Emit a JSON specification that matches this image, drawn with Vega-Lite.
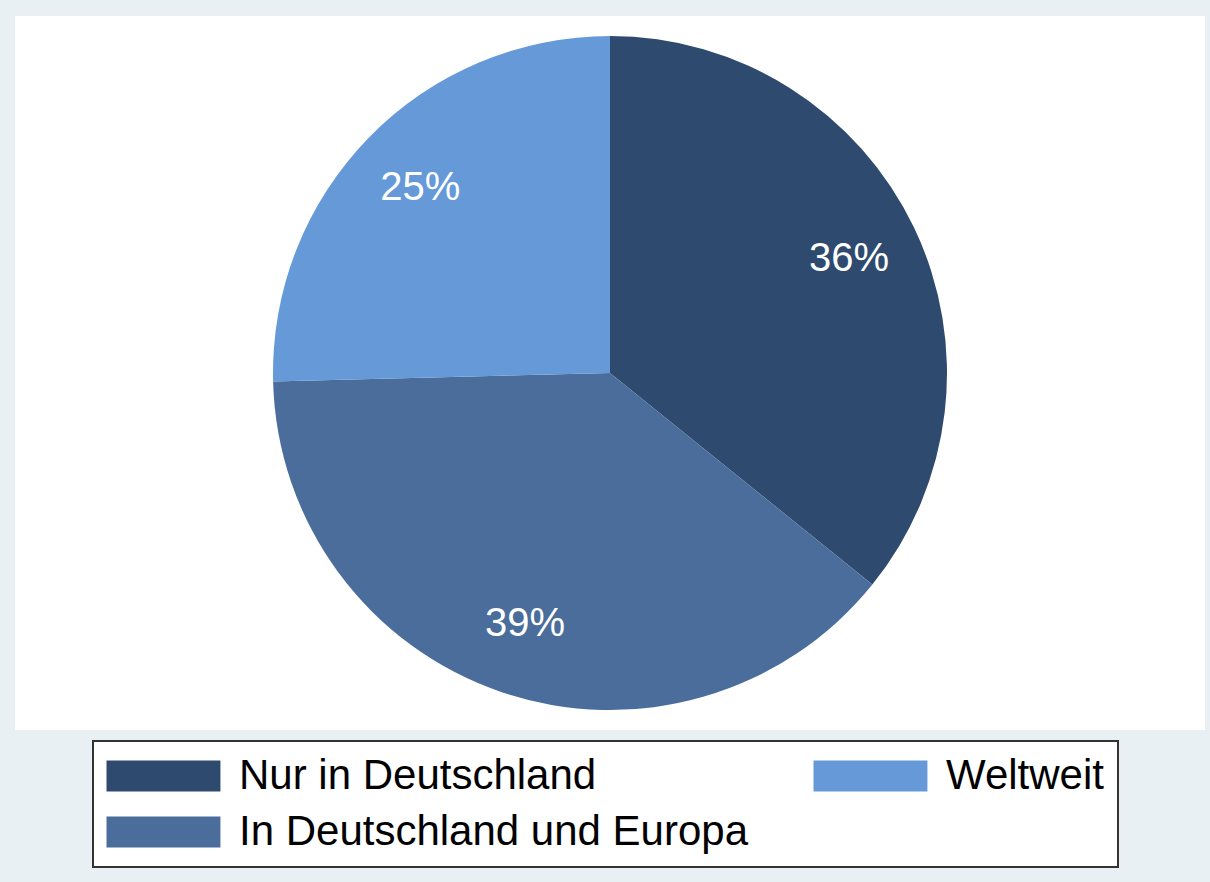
{
  "$schema": "https://vega.github.io/schema/vega-lite/v6.json",
  "width": 1190,
  "height": 714,
  "padding": {"left": 15, "top": 16, "right": 5, "bottom": 16},
  "background": "#e9f0f3",
  "view": {"stroke": null, "fill": "white"},
  "config": {
    "view": {"stroke": null, "fill": "white"},
    "legend": {"strokeWidth": 2}
  },
  "data": {
    "values": [
      {"region": "Nur in Deutschland", "share": 35.8, "label": "36%", "idx": 1},
      {"region": "In Deutschland und Europa", "share": 38.8, "label": "39%", "idx": 2},
      {"region": "Weltweit", "share": 25.4, "label": "25%", "idx": 3}
    ]
  },
  "encoding": {
    "theta": {"field": "share", "type": "quantitative", "stack": true},
    "order": {"field": "idx", "type": "quantitative"}
  },
  "layer": [
    {
      "mark": {"type": "arc", "outerRadius": 337},
      "encoding": {
        "color": {
          "field": "region",
          "type": "nominal",
          "scale": {
            "domain": ["Nur in Deutschland", "In Deutschland und Europa", "Weltweit"],
            "range": ["#2e4a6e", "#4a6d9b", "#6699d8"]
          },
          "legend": {
            "title": null,
            "orient": "none",
            "legendX": 78,
            "legendY": 725,
            "columns": 2,
            "symbolType": "M-1.387,-1L5.963,-1L5.963,1L-1.387,1Z",
            "symbolSize": 961,
            "symbolStrokeWidth": 0,
            "symbolOpacity": 1,
            "labelFontSize": 42,
            "labelFont": "Liberation Sans",
            "labelColor": "black",
            "labelOffset": 90,
            "labelLimit": 1000,
            "columnPadding": 64,
            "rowPadding": 14,
            "padding": 14,
            "strokeColor": "#333333",
            "fillColor": "white"
          }
        }
      }
    },
    {
      "mark": {"type": "text", "radius": 265, "fontSize": 40, "font": "Liberation Sans", "fill": "white"},
      "encoding": {"text": {"field": "label", "type": "nominal"}}
    }
  ]
}
